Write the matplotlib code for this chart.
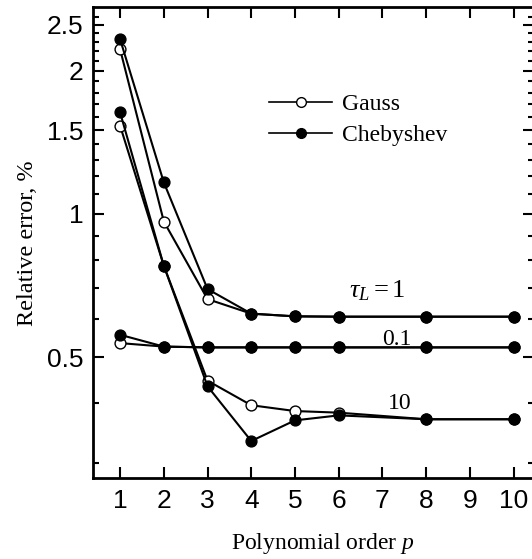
import matplotlib
matplotlib.use("Agg")
import matplotlib.pyplot as plt
from matplotlib.ticker import FixedLocator, NullFormatter, FixedFormatter
from matplotlib.lines import Line2D

plt.rcParams['mathtext.fontset'] = 'custom'
plt.rcParams['mathtext.rm'] = 'Liberation Serif'
plt.rcParams['mathtext.it'] = 'Liberation Serif:italic'

p = [1, 2, 3, 4, 5, 6, 8, 10]

gauss_tau1 = [2.22, 0.964, 0.662, 0.617, 0.609, 0.608, 0.608, 0.608]
cheb_tau1 = [2.33, 1.165, 0.695, 0.617, 0.609, 0.608, 0.608, 0.608]
gauss_tau01 = [0.535, 0.526, 0.524, 0.524, 0.524, 0.524, 0.524, 0.524]
cheb_tau01 = [0.557, 0.526, 0.524, 0.524, 0.524, 0.524, 0.524, 0.524]
gauss_tau10 = [1.533, 0.778, 0.446, 0.396, 0.385, 0.382, 0.370, 0.370]
cheb_tau10 = [1.635, 0.778, 0.434, 0.333, 0.368, 0.377, 0.370, 0.370]

xticks = [1, 2, 3, 4, 5, 6, 7, 8, 9, 10]
yticks_major = [0.5, 1, 1.5, 2, 2.5]
ytick_labels = ['0.5', '1', '1.5', '2', '2.5']
yticks_minor = [0.3, 0.4, 0.6, 0.7, 0.8, 0.9, 1.1, 1.2, 1.3, 1.4, 1.6, 1.7, 1.8, 1.9,
                2.1, 2.2, 2.3, 2.4, 2.6]

fig = plt.figure(figsize=(5.32, 5.59), dpi=100)
ax = fig.add_axes([0.1748, 0.1444, 0.8292, 0.8425])
ax.set_yscale('log')

lw = 1.5
ms = 7.8
for g in [gauss_tau1, gauss_tau01, gauss_tau10]:
    ax.plot(p, g, '-', color='black', lw=lw, marker='o', ms=ms, mfc='white', mec='black', mew=1.0)
for c in [cheb_tau1, cheb_tau01, cheb_tau10]:
    ax.plot(p, c, '-', color='black', lw=lw, marker='o', ms=ms, mfc='black', mec='black', mew=1.0)

ax.set_xlim(0.38, 10.47)
ax.set_ylim(0.278, 2.72)

ax.xaxis.set_major_locator(FixedLocator(xticks))
ax.set_xticklabels([str(t) for t in xticks])
ax.xaxis.set_minor_locator(FixedLocator([]))
ax.yaxis.set_major_locator(FixedLocator(yticks_major))
ax.yaxis.set_major_formatter(FixedFormatter(ytick_labels))
ax.yaxis.set_minor_locator(FixedLocator(yticks_minor))
ax.yaxis.set_minor_formatter(NullFormatter())

for s in ax.spines.values():
    s.set_linewidth(2.0)
ax.tick_params(which='both', direction='in', top=True, right=True, width=1.5)
ax.tick_params(which='major', length=8, labelsize=19)
ax.tick_params(axis='y', which='major', pad=7)
ax.tick_params(axis='x', which='major', pad=8)
ax.tick_params(which='minor', length=4.5)
for lab in ax.get_xticklabels() + ax.get_yticklabels():
    lab.set_fontfamily('Liberation Sans')

ax.set_xlabel(r'Polynomial order $\it{p}$', fontfamily='Liberation Serif', fontsize=17)
ax.xaxis.set_label_coords(0.5215, -0.112)
ax.set_ylabel('Relative error, %', fontfamily='Liberation Serif', fontsize=17.5, labelpad=6)

h1 = Line2D([], [], color='black', lw=1.2, marker='o', ms=7, mfc='white', mec='black')
h2 = Line2D([], [], color='black', lw=1.2, marker='o', ms=7, mfc='black', mec='black')
ax.legend([h1, h2], ['Gauss', 'Chebyshev'], loc='upper left', bbox_to_anchor=(0.351, 0.862),
          frameon=False, prop={'family': 'Liberation Serif', 'size': 17}, handlelength=2.67,
          handletextpad=0.42, labelspacing=0.4, borderpad=0.4)

ax.text(6.23, 0.666, r'$\tau_L = 1$', fontsize=19, ha='left', va='baseline')
ax.text(7.34, 0.531, '0.1', fontfamily='Liberation Serif', fontsize=17, ha='center', va='baseline')
ax.text(7.39, 0.389, '10', fontfamily='Liberation Serif', fontsize=17, ha='center', va='baseline')

fig.savefig('out.png', dpi=100)
